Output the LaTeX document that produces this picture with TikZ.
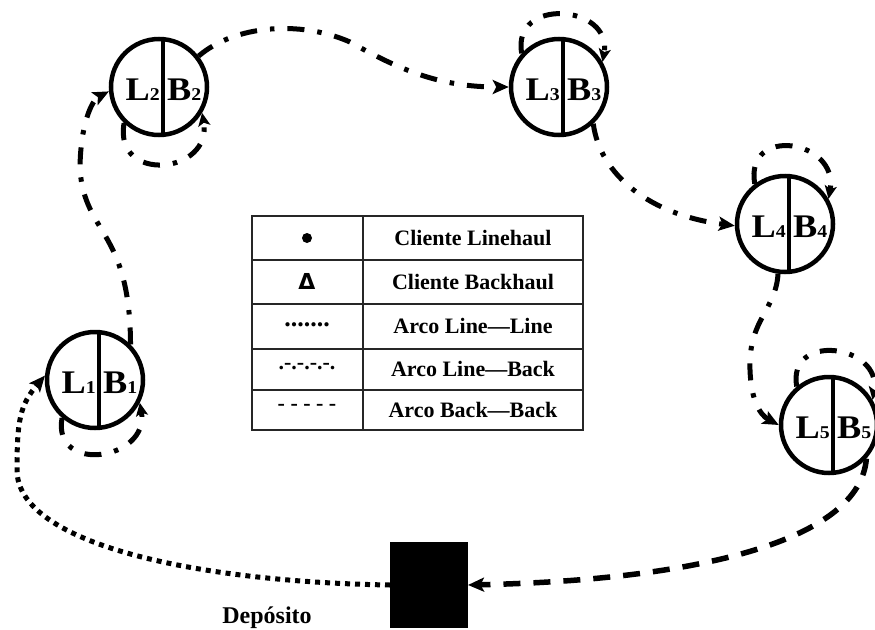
\documentclass[tikz,border=0pt]{standalone}
\usepackage{fontspec}
\setmainfont{Liberation Serif}
\newfontfamily\deltafont{DejaVu Sans}
\usetikzlibrary{arrows.meta}

% small index digit set on the baseline of the letter
\newcommand\stopidx[1]{{\fontsize{18}{18}\selectfont #1}}

% one customer: circle split into a linehaul and a backhaul half
\newcommand\routestop[4]{%
  \node[stopcircle] (#1) at (#2,#3) {};
  \draw[divider] ([xshift=4pt]#1.north) -- ([xshift=4pt]#1.south);
  \node[letter, anchor=base east] (#1L) at ([xshift=1pt,yshift=-13pt]#1.center) {\scalebox{1.1}[1]{L\stopidx{#4}}};
  \node[letter, anchor=base west] (#1B) at ([xshift=8pt,yshift=-13pt]#1.center) {\scalebox{1.1}[1]{B\stopidx{#4}}};
}

\begin{document}
\begin{tikzpicture}[x=1pt,y=1pt,
  stopcircle/.style={circle, draw, line width=4.5pt, minimum size=96pt, inner sep=0pt},
  divider/.style={line width=3.2pt},
  letter/.style={inner sep=0pt, font=\bfseries\fontsize{33}{33}\selectfont},
  cell/.style={inner sep=0pt, font=\bfseries\fontsize{22}{22}\selectfont},
  tableline/.style={line width=1.5pt, draw=black!85},
  bigtip/.style={-{Stealth[length=16pt,width=14pt,inset=3.5pt]}},
  smalltip/.style={-{Stealth[length=13pt,width=12pt,inset=3pt]}},
  lineline/.style={line width=5pt, dash pattern=on 5pt off 5pt, bigtip},
  lineback/.style={line width=5pt, dash pattern=on 17pt off 13pt on 4.5pt off 13pt, bigtip},
  loopback/.style={line width=5pt, dash pattern=on 17pt off 13pt on 4.5pt off 13pt, smalltip},
  backback/.style={line width=5.5pt, dash pattern=on 17pt off 13pt, bigtip},
]
\useasboundingbox (0,0) rectangle (875,-629);

% customers
\routestop{C1}{95}{-380}{1}
\routestop{C2}{159}{-87}{2}
\routestop{C3}{559}{-87}{3}
\routestop{C4}{785}{-224}{4}
\routestop{C5}{829}{-425}{5}

% depot
\node[fill=black, minimum width=78pt, minimum height=86pt, inner sep=0pt, outer sep=0pt] (dep) at (429,-585) {};
\node[cell, anchor=base, font=\bfseries\fontsize{24}{24}\selectfont] (deplabel) at (267,-623) {Depósito};

% legend table
\draw[tableline] (252,-216) rectangle (583,-430);
\draw[tableline] (363,-216) -- (363,-430);
\foreach \yy in {260,304,349,390} \draw[tableline] (252,-\yy) -- (583,-\yy);
\node[circle, fill=black, inner sep=0pt, minimum size=10pt] (s1) at (307,-238) {};
\node[inner sep=0pt, font=\deltafont\bfseries\fontsize{22}{22}\selectfont] (s2) at (307,-281) {Δ};
\node[cell, font=\bfseries\fontsize{26}{26}\selectfont] (s3) at (307,-325) {.......};
\node[cell] (s4) at (307,-367) {.-.-.-.-.};
\node[cell] (s5) at (307,-407) {- - - - -};
\node[cell] (t1) at (473,-238) {Cliente Linehaul};
\node[cell] (t2) at (473,-282) {Cliente Backhaul};
\node[cell] (t3) at (473,-326) {Arco Line—Line};
\node[cell] (t4) at (473,-369) {Arco Line—Back};
\node[cell] (t5) at (473,-410) {Arco Back—Back};

% route
\draw[lineline] (dep.west) .. controls (200,-582) and (17,-545) .. (17,-470)
  .. controls (17,-420) and (20,-405) .. (C1.175);
\draw[lineback] (C1.45) .. controls (130,-230) and (85,-235) .. (80,-170)
  .. controls (80,-125) and (92,-100) .. (C2.185);
\draw[lineback] (C2.38) .. controls (235,-25) and (300,-20) .. (350,-42)
  .. controls (400,-70) and (440,-87) .. (C3.180);
\draw[lineback] (C3.-47) .. controls (600,-175) and (650,-215) .. (C4.182);
\draw[lineback] (C4.-98) .. controls (776,-310) and (748,-320) .. (750,-370)
  .. controls (751,-400) and (760,-415) .. (C5.180);
\draw[backback] (C5.-42) .. controls (860,-540) and (700,-580) .. (dep.east);

% linehaul to backhaul at the same customer
\draw[loopback] (C1.-131) .. controls +(-100:58) and +(-80:58) .. (C1.-27);
\draw[loopback] (C2.-134) .. controls +(-100:62) and +(-80:62) .. (C2.-31);
\draw[loopback] (C3.138) .. controls +(100:58) and +(80:58) .. (C3.30);
\draw[loopback] (C4.127) .. controls +(100:60) and +(80:60) .. (C4.30);
\draw[loopback] (C5.130) .. controls +(100:56) and +(80:56) .. (C5.30);
\end{tikzpicture}
\end{document}
